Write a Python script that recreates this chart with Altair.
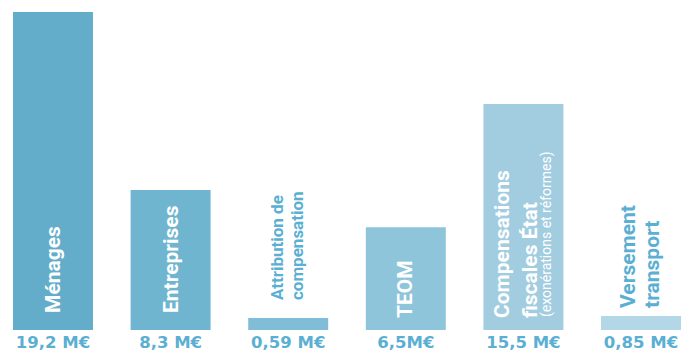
import altair as alt
import pandas as pd

categories = ["Ménages", "Entreprises", "Attribution de compensation", "TEOM",
              "Compensations fiscales État", "Versement transport"]
# bar heights as drawn (M€ scale, Ménages = 19.2)
bar_heights = [19.2, 8.45, 0.72, 6.2, 13.65, 0.85]
value_labels = ["19,2 M€", "8,3 M€", "0,59 M€", "6,5M€", "15,5 M€", "0,85 M€"]
name_labels = ["Ménages", "Entreprises", "Attribution de\ncompensation", "TEOM",
               "Compensations\nfiscales État", "Versement\ntransport"]
sub_labels = ["", "", "", "", "(exonérations et réformes)", ""]

bar_colors = ["#63adca", "#70b5d0", "#80bdd6", "#8fc5db", "#a2cde0", "#b3d7e6"]
label_blue = "#5aafd3"

df = pd.DataFrame({
    "cat": categories,
    "h": bar_heights,
    "val": value_labels,
    "name": name_labels,
    "sub": sub_labels,
})

xenc = alt.X("cat:N", sort=categories, axis=None,
             scale=alt.Scale(paddingInner=0.32, paddingOuter=0))
yscale = alt.Scale(domain=[0, 19.2], nice=False, zero=True)

base = alt.Chart(df).transform_calculate(base="0").encode(x=xenc)

bars = base.mark_bar().encode(
    y=alt.Y("h:Q", axis=None, scale=yscale),
    color=alt.Color("cat:N", scale=alt.Scale(domain=categories, range=bar_colors), legend=None),
)

values = base.mark_text(
    align="center", baseline="alphabetic", dy=18, fontSize=16.5,
    font="DejaVu Sans", fontWeight="bold", color=label_blue,
).encode(
    y=alt.Y("base:Q", axis=None, scale=yscale),
    text="val:N",
)


def label_layer(names, field, dx, dy, size, color, weight, lh, at_top):
    return base.transform_filter(
        alt.FieldOneOfPredicate(field="cat", oneOf=names)
    ).mark_text(
        angle=270, align="left", baseline="middle", dx=dx, dy=dy,
        fontSize=size, font="Roboto", fontWeight=weight, color=color,
        lineBreak="\n", lineHeight=lh,
    ).encode(
        y=alt.Y(("h" if at_top else "base") + ":Q", axis=None, scale=yscale),
        text=field + ":N",
    )


lab1 = label_layer(["Ménages", "Entreprises"], "name", 17, 1, 21, "white", "bold", 24, False)
lab2 = label_layer(["TEOM"], "name", 12, 0, 21, "white", "bold", 24, False)
lab3 = label_layer(["Compensations fiscales État"], "name", 12, -20, 21, "white", "bold", 28, False)
lab4 = label_layer(["Compensations fiscales État"], "sub", 13, 24, 14, "white", "normal", 16, False)
lab5 = label_layer(["Attribution de compensation"], "name", 18, -10, 17, label_blue, "bold", 20, True)
lab6 = label_layer(["Versement transport"], "name", 8, -12, 21, label_blue, "bold", 24, True)

chart = alt.layer(bars, values, lab1, lab2, lab3, lab4, lab5, lab6).properties(
    width=668, height=318,
    padding={"left": 5, "top": 4, "right": 0, "bottom": 0},
    background="white",
).configure_view(stroke=None)

chart.save("out.html", embed_options={"renderer": "svg", "actions": False})
